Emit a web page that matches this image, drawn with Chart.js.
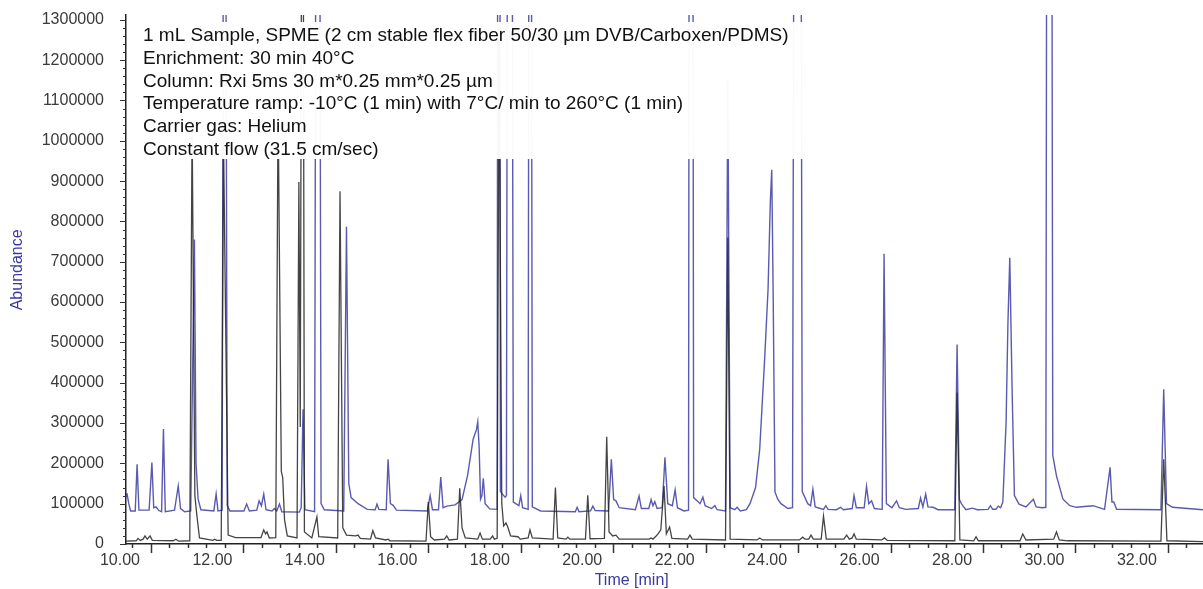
<!DOCTYPE html>
<html>
<head>
<meta charset="utf-8">
<script src="https://cdn.jsdelivr.net/npm/chart.js@4.4.1/dist/chart.umd.min.js"></script>
<style>
  html, body { margin: 0; padding: 0; background: #fff; }
  #wrap { width: 1203px; height: 589px; position: relative; }
</style>
</head>
<body>
<div id="wrap"><canvas id="chart"></canvas></div>
<script>
// Time [min] / abundance pairs (off-scale peaks given a large apex)
const blueTrace = [
  [10.13,118000],[10.15,126000],[10.19,100000],[10.23,82000],[10.33,82000],[10.37,198000],[10.41,84000],
  [10.63,84000],[10.69,202000],[10.73,90000],[10.78,92000],[10.84,83000],[10.90,80000],[10.94,285000],
  [10.98,80000],[11.18,84000],[11.26,144000],[11.31,88000],[11.40,80000],[11.53,82000],[11.61,755000],
  [11.645,200000],[11.69,111000],[11.75,85000],[12.03,82000],[12.08,124000],[12.12,82000],[12.21,84000],
  [12.26,3000000],[12.32,95000],[12.38,82000],[12.68,82000],[12.74,99000],[12.80,82000],[12.96,84000],
  [13.01,107000],[13.06,95000],[13.11,124000],[13.16,85000],[13.29,82000],[13.34,88000],[13.39,82000],
  [13.45,99000],[13.50,80000],[13.88,79000],[13.92,90000],[13.96,334000],[14.00,85000],[14.21,80000],
  [14.28,4000000],[14.35,100000],[14.42,85000],[14.84,82000],[14.90,787000],[14.95,150000],[15.00,115000],
  [15.15,100000],[15.35,86000],[15.52,85000],[15.56,99000],[15.60,86000],[15.76,85000],[15.80,210000],
  [15.85,100000],[15.91,96000],[15.98,84000],[16.65,82000],[16.71,120000],[16.76,85000],[16.89,85000],
  [16.94,166000],[16.99,90000],[17.07,94000],[17.25,97000],[17.40,110000],[17.52,170000],[17.64,260000],
  [17.71,283000],[17.74,303000],[17.77,240000],[17.80,111000],[17.83,120000],[17.86,163000],[17.90,100000],
  [18.00,87000],[18.16,86000],[18.195,5000000],[18.23,130000],[18.33,116000],[18.36,120000],[18.43,5000000],
  [18.51,104000],[18.63,95000],[18.67,120000],[18.71,90000],[18.83,86000],[18.87,4000000],[18.92,92000],
  [19.10,82000],[19.85,80000],[19.89,91000],[19.93,80000],[20.18,82000],[20.23,94000],[20.28,83000],
  [20.57,82000],[20.63,210000],[20.68,110000],[20.73,107000],[20.80,90000],[21.15,85000],[21.23,119000],
  [21.28,88000],[21.44,88000],[21.49,110000],[21.53,95000],[21.57,105000],[21.62,88000],[21.73,90000],
  [21.79,215000],[21.85,100000],[21.95,95000],[22.01,134000],[22.06,90000],[22.20,82000],[22.30,84000],
  [22.35,6000000],[22.41,115000],[22.55,100000],[22.61,116000],[22.66,95000],[22.80,88000],[22.87,95000],
  [22.92,85000],[23.10,82000],[23.15,1150000],[23.20,90000],[23.30,85000],[23.35,91000],[23.42,82000],
  [23.55,85000],[23.63,100000],[23.75,140000],[23.84,235000],[23.95,466000],[24.02,631000],[24.07,850000],
  [24.10,928000],[24.13,631000],[24.17,129000],[24.23,111000],[24.30,100000],[24.45,88000],[24.55,90000],
  [24.66,6000000],[24.76,130000],[24.88,100000],[24.94,95000],[24.99,136000],[25.04,92000],[25.22,86000],
  [25.27,95000],[25.32,86000],[25.50,85000],[25.59,91000],[25.65,85000],[25.84,88000],[25.88,120000],
  [25.93,90000],[26.10,90000],[26.15,143000],[26.20,100000],[26.26,107000],[26.32,88000],[26.49,86000],
  [26.53,720000],[26.58,100000],[26.70,90000],[26.80,107000],[26.86,90000],[27.00,86000],[27.27,88000],
  [27.32,114000],[27.37,92000],[27.43,124000],[27.48,92000],[27.59,91000],[27.70,85000],[28.06,85000],
  [28.11,495000],[28.16,110000],[28.21,99000],[28.30,85000],[28.44,89000],[28.55,85000],[28.78,86000],
  [28.83,95000],[28.88,86000],[28.95,86000],[29.00,94000],[29.05,90000],[29.10,104000],[29.17,302000],
  [29.21,549000],[29.25,710000],[29.30,384000],[29.35,120000],[29.45,99000],[29.60,92000],[29.76,111000],
  [29.82,92000],[29.95,90000],[30.03,91000],[30.10,6000000],[30.18,220000],[30.26,169000],[30.40,111000],
  [30.55,95000],[30.69,91000],[31.05,95000],[31.30,86000],[31.42,190000],[31.46,104000],[31.50,104000],
  [31.56,86000],[32.52,85000],[32.58,384000],[32.64,100000],[32.77,91000],[33.43,85000]
];

const blackTrace = [
  [10.13,7000],[10.35,8000],[10.39,14000],[10.44,9000],[10.50,12000],[10.54,20000],[10.59,12000],
  [10.65,20000],[10.70,9000],[11.15,8000],[11.21,12000],[11.27,7000],[11.51,8000],[11.56,1050000],
  [11.62,120000],[11.66,74000],[11.72,15000],[12.01,9000],[12.05,12000],[12.09,9000],[12.19,9000],
  [12.24,1000000],[12.34,22000],[12.50,16000],[13.05,16000],[13.11,35000],[13.15,25000],[13.18,30000],
  [13.23,15000],[13.37,16000],[13.42,1100000],[13.49,180000],[13.52,165000],[13.56,60000],[13.62,20000],
  [13.83,15000],[13.87,898000],[13.90,290000],[13.95,2500000],[13.99,30000],[14.15,15000],[14.26,67000],
  [14.30,18000],[14.71,15000],[14.76,875000],[14.82,40000],[14.90,22000],[15.10,20000],[15.15,22000],
  [15.20,14000],[15.42,12000],[15.47,33000],[15.53,15000],[15.75,10000],[15.80,12000],[15.84,8000],
  [16.62,7000],[16.67,104000],[16.72,18000],[16.80,10000],[17.02,12000],[17.07,20000],[17.12,10000],
  [17.30,12000],[17.35,138000],[17.40,40000],[17.47,15000],[17.74,12000],[17.79,27000],[17.84,12000],
  [18.01,12000],[18.06,20000],[18.10,12000],[18.16,14000],[18.20,1250000],[18.26,100000],[18.30,45000],
  [18.35,52000],[18.39,42000],[18.45,20000],[18.61,18000],[18.66,12000],[18.83,15000],[18.87,35000],
  [18.92,15000],[19.37,12000],[19.42,140000],[19.47,15000],[19.65,12000],[19.69,17000],[19.73,12000],
  [20.07,12000],[20.12,121000],[20.17,13000],[20.48,14000],[20.53,266000],[20.58,30000],[20.66,20000],
  [20.73,22000],[20.80,12000],[21.45,12000],[21.49,15000],[21.53,12000],[21.60,20000],[21.64,25000],
  [21.70,35000],[21.77,144000],[21.82,25000],[21.89,42000],[21.94,14000],[22.28,12000],[22.33,22000],
  [22.38,12000],[23.10,10000],[23.15,760000],[23.20,12000],[23.78,10000],[23.84,15000],[23.90,10000],
  [24.70,10000],[24.77,17000],[24.82,12000],[24.90,12000],[24.95,22000],[25.00,12000],[25.17,12000],
  [25.22,69000],[25.28,12000],[25.66,12000],[25.72,22000],[25.78,12000],[25.84,15000],[25.88,25000],
  [25.93,12000],[26.48,10000],[26.54,15000],[26.60,9000],[28.06,8000],[28.11,376000],[28.17,10000],
  [28.47,8000],[28.52,18000],[28.57,8000],[29.47,8000],[29.53,25000],[29.60,10000],[30.20,12000],
  [30.26,30000],[30.32,10000],[30.50,8000],[32.52,7000],[32.58,210000],[32.65,8000],[33.43,6000]
];

const xTickLabels = [10, 12, 14, 16, 18, 20, 22, 24, 26, 28, 30, 32];
const yTickLabels = [0, 100000, 200000, 300000, 400000, 500000, 600000, 700000,
  800000, 900000, 1000000, 1100000, 1200000, 1300000];
const xRange = [10.13, 33.43];
const yMax = 1312000;

const annotationLines = [
  "1 mL Sample, SPME (2 cm stable flex fiber 50/30 µm DVB/Carboxen/PDMS)",
  "Enrichment: 30 min 40°C",
  "Column: Rxi 5ms 30 m*0.25 mm*0.25 µm",
  "Temperature ramp: -10°C (1 min) with 7°C/ min to 260°C (1 min)",
  "Carrier gas: Helium",
  "Constant flow (31.5 cm/sec)"
];

const FONT = '"Liberation Sans", Arial, sans-serif';
const TITLE_BLUE = "#3a3aa2";

// minor/major tick marks, axis titles and the method text box
const overlayPlugin = {
  id: "overlay",
  afterDatasetsDraw(chart) {
    const { ctx } = chart;
    ctx.save();
    ctx.fillStyle = "rgba(255,255,255,0.97)";
    ctx.fillRect(130, 22, 684, 137);
    ctx.fillStyle = "#111";
    ctx.font = "19px " + FONT;
    ctx.textBaseline = "middle";
    annotationLines.forEach((line, i) => ctx.fillText(line, 143, 36 + i * 22.7));
    ctx.restore();
  },
  afterDraw(chart) {
    const { ctx, chartArea } = chart;
    const xs = chart.scales.x;
    const ys = chart.scales.y;
    ctx.save();
    ctx.strokeStyle = "#333";
    ctx.lineWidth = 1.5;
    // x ticks every 0.4 min, long every 2 min
    let k = 0;
    for (let t = 10.27; t < xRange[1]; t += 0.4, k++) {
      const px = Math.round(xs.getPixelForValue(t)) + 0.5;
      const len = k % 5 === 1 ? 9 : 4;
      ctx.beginPath();
      ctx.moveTo(px, chartArea.bottom);
      ctx.lineTo(px, chartArea.bottom + len);
      ctx.stroke();
    }
    // y ticks every 20000, long every 100000
    ctx.lineWidth = 1;
    for (let v = 0; v <= 1300000; v += 20000) {
      const py = Math.round(ys.getPixelForValue(v)) + 0.5;
      const len = v % 100000 === 0 ? 6 : 3;
      ctx.beginPath();
      ctx.moveTo(chartArea.left - len, py);
      ctx.lineTo(chartArea.left, py);
      ctx.stroke();
    }
    // axis titles
    ctx.fillStyle = TITLE_BLUE;
    ctx.font = "16px " + FONT;
    ctx.textAlign = "center";
    ctx.textBaseline = "middle";
    ctx.fillText("Time [min]", xs.getPixelForValue(21.07), 581);
    ctx.translate(18, ys.getPixelForValue(680000));
    ctx.rotate(-Math.PI / 2);
    ctx.fillText("Abundance", 0, 0);
    ctx.restore();
  }
};

new Chart(document.getElementById("chart"), {
  type: "line",
  data: {
    datasets: [
      {
        label: "black",
        data: blackTrace.map(([x, y]) => ({ x, y })),
        borderColor: "rgba(35,35,35,0.85)",
        borderWidth: 1.3,
        pointRadius: 0,
        tension: 0
      },
      {
        label: "blue",
        data: blueTrace.map(([x, y]) => ({ x, y })),
        borderColor: "rgba(35,35,150,0.75)",
        borderWidth: 1.4,
        pointRadius: 0,
        tension: 0
      }
    ]
  },
  options: {
    responsive: true,
    maintainAspectRatio: false,
    animation: false,
    layout: { padding: { top: 15, right: 0, bottom: 0, left: 0 } },
    plugins: { legend: { display: false }, tooltip: { enabled: false } },
    scales: {
      x: {
        type: "linear",
        min: xRange[0],
        max: xRange[1],
        afterBuildTicks: (scale) => { scale.ticks = xTickLabels.map(v => ({ value: v })); },
        afterFit: (scale) => {
          scale.height = 45;
          scale.paddingLeft = 0;
          scale.paddingRight = 0;
        },
        grid: { display: false, drawTicks: false },
        border: { display: true, color: "#222", width: 1.5 },
        ticks: {
          autoSkip: false,
          maxRotation: 0,
          padding: 7,
          color: "#3a3a3a",
          font: { size: 16, family: FONT },
          callback: (v) => Number(v).toFixed(2)
        }
      },
      y: {
        min: 0,
        max: yMax,
        afterBuildTicks: (scale) => { scale.ticks = yTickLabels.map(v => ({ value: v })); },
        afterFit: (scale) => {
          scale.width = 126;
          scale.paddingTop = 0;
          scale.paddingBottom = 0;
        },
        grid: { display: false, drawTicks: false },
        border: { display: true, color: "#222", width: 1.5 },
        ticks: {
          autoSkip: false,
          padding: 22,
          color: "#3a3a3a",
          font: { size: 16, family: FONT },
          callback: (v) => String(v)
        }
      }
    }
  },
  plugins: [overlayPlugin]
});
</script>
</body>
</html>
